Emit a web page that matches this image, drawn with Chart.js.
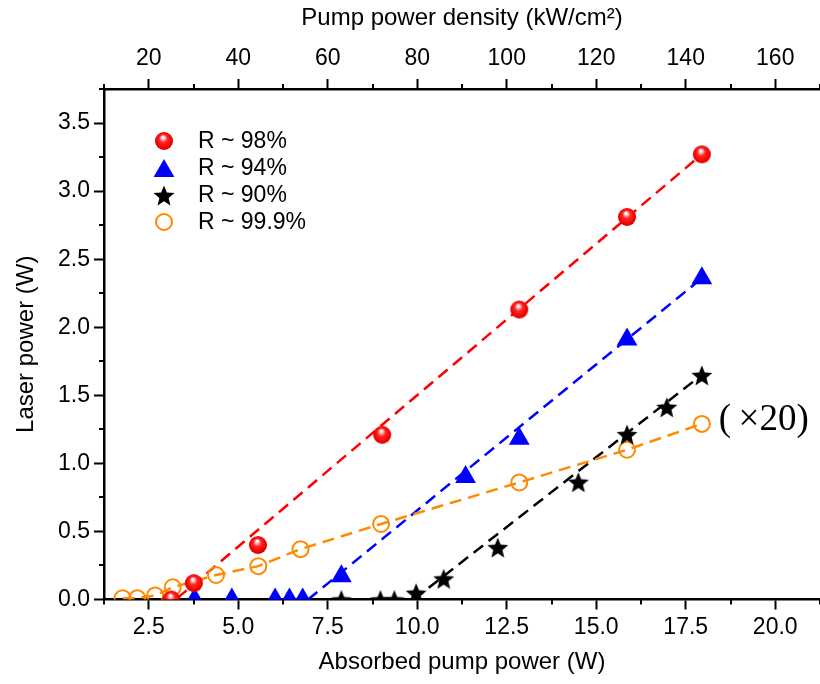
<!DOCTYPE html>
<html>
<head>
<meta charset="utf-8">
<script src="https://cdn.jsdelivr.net/npm/chart.js@4.4.1/dist/chart.umd.min.js"></script>
<style>
  html, body { margin: 0; padding: 0; background: #fff; }
  #wrap { width: 820px; height: 684px; }
</style>
</head>
<body>
<div id="wrap"><canvas id="chart" width="820" height="684"></canvas></div>
<script>
// values: absorbed pump power (W) vs laser power (W)
const absorbed98 = [3.13, 3.76, 5.55, 9.02, 12.85, 15.86, 17.95];
const laser98 = [0.0, 0.12, 0.40, 1.21, 2.13, 2.81, 3.27];

const absorbed94 = [3.78, 4.82, 6.03, 6.43, 6.80, 7.88, 11.35, 12.85, 15.86, 17.95];
const laser94 = [0, 0, 0, 0, 0, 0.17, 0.90, 1.18, 1.91, 2.36];

const absorbed90 = [7.88, 8.97, 9.36, 9.97, 10.74, 12.25, 14.50, 15.86, 16.97, 17.95];
const laser90 = [0, 0, 0, 0.05, 0.155, 0.385, 0.865, 1.215, 1.415, 1.65];

// R ~ 99.9% is plotted x20
const absorbed999 = [1.77, 2.18, 2.68, 3.17, 4.38, 5.56, 6.74, 8.99, 12.85, 15.86, 17.95];
const laser999 = [0.01, 0.01, 0.03, 0.09, 0.18, 0.245, 0.37, 0.555, 0.86, 1.10, 1.29];

// linear fits (end points)
const fit98X = [3.3, 17.95], fit98Y = [0.01, 3.27];
const fit94X = [6.95, 17.95], fit94Y = [0, 2.36];
const fit90X = [9.9, 17.95], fit90Y = [0, 1.65];

const seriesLabels = ['R ~ 98%', 'R ~ 94%', 'R ~ 90%', 'R ~ 99.9%'];
const scaleNote = '(\u2009\u00d720)';

// axis ticks
const absorbedTicks = [1.25, 2.5, 3.75, 5, 6.25, 7.5, 8.75, 10, 11.25, 12.5, 13.75, 15, 16.25, 17.5, 18.75, 20, 21.25];
const densityTicks = [10, 20, 30, 40, 50, 60, 70, 80, 90, 100, 110, 120, 130, 140, 150, 160, 170];
const powerTicks = [0, 0.25, 0.5, 0.75, 1, 1.25, 1.5, 1.75, 2, 2.25, 2.5, 2.75, 3, 3.25, 3.5, 3.75];

const SANS = '"Liberation Sans", Arial, sans-serif';
const RED = '#ff0000', BLUE = '#0000ff', BLACK = '#000000', ORANGE = '#ff8a00';

const pts = (xs, ys) => xs.map((x, i) => ({ x, y: ys[i] }));
const majorEvery = { x: 2.5, x2: 20, y: 0.5 };
const isMajor = (v, step) => Math.abs(v / step - Math.round(v / step)) < 1e-6;

function ballSprite(r) {
  const c = document.createElement('canvas');
  c.width = c.height = 2 * r + 2;
  const g = c.getContext('2d');
  const m = r + 1;
  const grad = g.createRadialGradient(m - 1, m - r * 0.45, 0.5, m, m, r);
  grad.addColorStop(0, '#ffffff');
  grad.addColorStop(0.18, '#ffb4b4');
  grad.addColorStop(0.4, '#ff2a2a');
  grad.addColorStop(0.85, '#f20000');
  grad.addColorStop(1, '#d40000');
  g.fillStyle = grad;
  g.beginPath();
  g.arc(m, m, r, 0, Math.PI * 2);
  g.fill();
  return c;
}

function starSprite(r) {
  const c = document.createElement('canvas');
  c.width = c.height = 2 * r + 2;
  const g = c.getContext('2d');
  const m = r + 1;
  g.fillStyle = '#000';
  g.beginPath();
  for (let i = 0; i < 10; i++) {
    const rr = i % 2 ? r * 0.44 : r;
    const a = -Math.PI / 2 + i * Math.PI / 5;
    g.lineTo(m + rr * Math.cos(a), m + 1.5 + rr * Math.sin(a));
  }
  g.closePath();
  g.fill();
  return c;
}

const ball = ballSprite(9);
const star = starSprite(11);

const tickOpts = (id, fmt) => ({
  autoSkip: false,
  maxRotation: 0,
  color: '#000',
  font: { family: SANS, size: 23 },
  callback: v => isMajor(v, majorEvery[id]) ? fmt(v) : ''
});

const gridOpts = {
  drawOnChartArea: false,
  drawTicks: true,
  tickLength: 10,
  tickWidth: 2,
  tickColor: c => (c.tick && !isMajor(c.tick.value, majorEvery[c.scale.id])) ? 'rgba(0,0,0,0)' : '#000'
};

const setTicks = values => scale => { scale.ticks = values.map(value => ({ value })); };
const fitX = h => s => { s.height = h; s.paddingLeft = 0; s.paddingRight = 0; };

// short minor ticks
const minorTicks = {
  id: 'minorTicks',
  afterDraw(chart) {
    const { ctx, chartArea: a } = chart;
    ctx.save();
    ctx.strokeStyle = '#000';
    ctx.lineWidth = 2;
    ['x', 'x2', 'y'].forEach(id => {
      const s = chart.scales[id];
      s.ticks.forEach(t => {
        if (isMajor(t.value, majorEvery[id])) return;
        const p = Math.round(s.getPixelForValue(t.value));
        ctx.beginPath();
        if (id === 'y') { ctx.moveTo(a.left, p); ctx.lineTo(a.left - 5, p); }
        else if (id === 'x') { ctx.moveTo(p, a.bottom); ctx.lineTo(p, a.bottom + 5); }
        else { ctx.moveTo(p, a.top); ctx.lineTo(p, a.top - 5); }
        ctx.stroke();
      });
    });
    ctx.restore();
  }
};

// legend inside the plot + the x20 note
const insideLegend = {
  id: 'insideLegend',
  afterDraw(chart) {
    const ctx = chart.ctx;
    ctx.save();
    ctx.font = '23px ' + SANS;
    ctx.textBaseline = 'middle';
    let row = 0;
    chart.data.datasets.forEach(ds => {
      if (!ds.label) return;
      const y = 141 + row * 27;
      ctx.fillStyle = ds.backgroundColor;
      ctx.strokeStyle = ds.borderColor;
      ctx.lineWidth = ds.pointBorderWidth;
      const dy = ds.pointStyle === 'triangle' ? 3 : 0;
      Chart.helpers.drawPoint(ctx, {
        pointStyle: ds.pointStyle, radius: ds.pointRadius,
        borderWidth: ds.pointBorderWidth, rotation: 0
      }, 164, y + dy);
      ctx.fillStyle = '#000';
      ctx.fillText(ds.label, 198, y + 1);
      row++;
    });

    const xs = chart.scales.x, ys = chart.scales.y;
    const n = absorbed999.length - 1;
    ctx.font = '37px "Liberation Serif", "Times New Roman", serif';
    ctx.fillText(scaleNote, xs.getPixelForValue(absorbed999[n]) + 17, ys.getPixelForValue(laser999[n]) - 4);
    ctx.restore();
  }
};

new Chart(document.getElementById('chart'), {
  type: 'scatter',
  data: {
    datasets: [
      {
        label: seriesLabels[0], data: pts(absorbed98, laser98),
        pointStyle: ball, pointRadius: 9, pointBorderWidth: 0,
        backgroundColor: RED, borderColor: RED
      },
      {
        label: seriesLabels[1], data: pts(absorbed94, laser94),
        pointStyle: 'triangle', pointRadius: 12, pointBorderWidth: 0,
        backgroundColor: BLUE, borderColor: BLUE
      },
      {
        label: seriesLabels[2], data: pts(absorbed90, laser90),
        pointStyle: star, pointRadius: 11, pointBorderWidth: 0,
        backgroundColor: BLACK, borderColor: BLACK
      },
      {
        label: seriesLabels[3], data: pts(absorbed999, laser999),
        pointStyle: 'circle', pointRadius: 8, pointBorderWidth: 2,
        backgroundColor: 'rgba(0,0,0,0)', borderColor: ORANGE,
        showLine: true, borderWidth: 2.5, borderDash: [12, 7]
      },
      {
        data: pts(fit98X, fit98Y), showLine: true, pointRadius: 0,
        borderColor: RED, borderWidth: 2.5, borderDash: [12, 7]
      },
      {
        data: pts(fit94X, fit94Y), showLine: true, pointRadius: 0,
        borderColor: BLUE, borderWidth: 2.5, borderDash: [12, 7]
      },
      {
        data: pts(fit90X, fit90Y), showLine: true, pointRadius: 0,
        borderColor: BLACK, borderWidth: 2.5, borderDash: [12, 7]
      }
    ]
  },
  options: {
    responsive: false,
    animation: false,
    layout: { padding: 0, autoPadding: false },
    plugins: { legend: { display: false }, tooltip: { enabled: false } },
    scales: {
      x: {
        type: 'linear', position: 'bottom', min: 1.25, max: 21.25,
        afterBuildTicks: setTicks(absorbedTicks),
        afterFit: fitX(84.5),
        ticks: { ...tickOpts('x', v => v.toFixed(1)), padding: 4 },
        grid: gridOpts,
        border: { display: true, color: '#000', width: 2.5 },
        title: {
          display: true, text: 'Absorbed pump power (W)', color: '#000',
          font: { family: SANS, size: 24 }, padding: { top: 0, bottom: 7 }
        }
      },
      x2: {
        type: 'linear', position: 'top', min: 10, max: 170,
        afterBuildTicks: setTicks(densityTicks),
        afterFit: fitX(89),
        ticks: { ...tickOpts('x2', v => String(Math.round(v))), padding: 7 },
        grid: gridOpts,
        border: { display: true, color: '#000', width: 2.5 },
        title: {
          display: true, text: 'Pump power density (kW/cm\u00b2)', color: '#000',
          font: { family: SANS, size: 24 }, padding: { top: 4, bottom: 0 }
        }
      },
      y: {
        type: 'linear', position: 'left', min: 0, max: 3.75,
        afterBuildTicks: setTicks(powerTicks),
        afterFit: s => { s.width = 104; },
        ticks: { ...tickOpts('y', v => v.toFixed(1)), padding: 4 },
        grid: gridOpts,
        border: { display: true, color: '#000', width: 2.5 },
        title: {
          display: true, text: 'Laser power (W)', color: '#000',
          font: { family: SANS, size: 24 }, padding: { top: 12, bottom: 0 }
        }
      }
    }
  },
  plugins: [minorTicks, insideLegend]
});
</script>
</body>
</html>
